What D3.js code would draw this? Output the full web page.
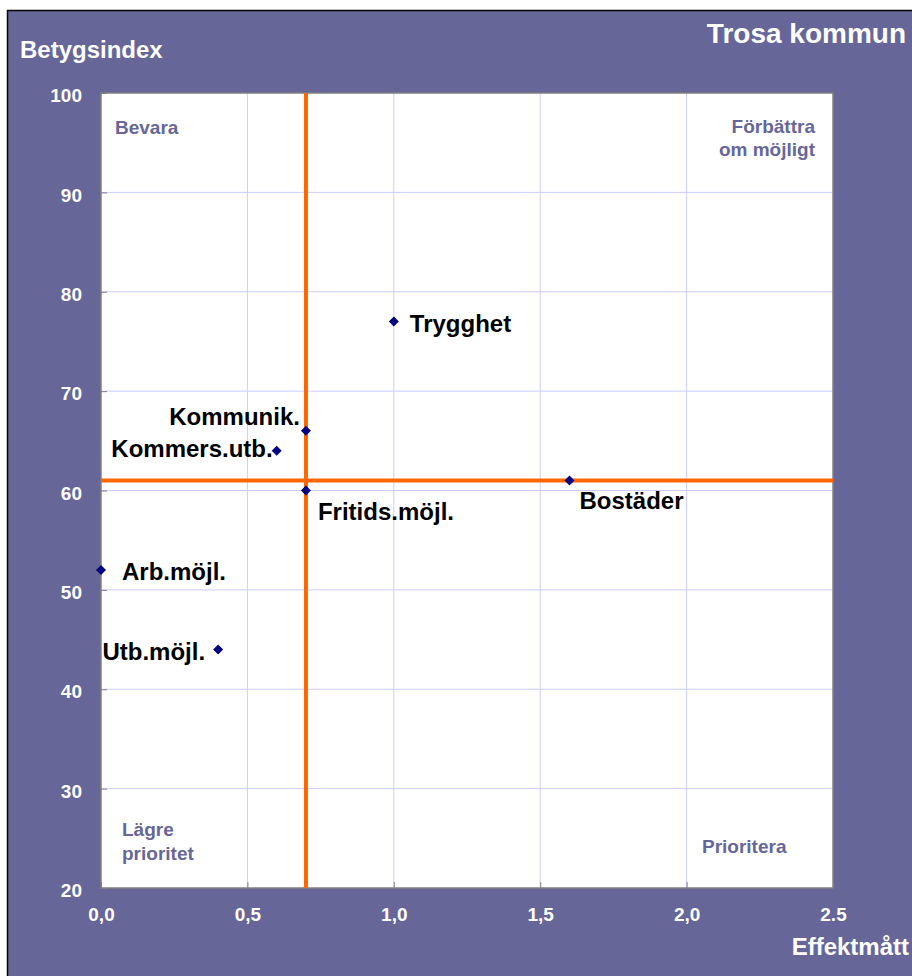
<!DOCTYPE html>
<html><head><meta charset="utf-8">
<script src="https://cdn.jsdelivr.net/npm/d3@7"></script>
<style>html,body{margin:0;padding:0;background:#fff;}svg{display:block;}text{font-family:"Liberation Sans",Arial,sans-serif;font-weight:bold;}</style>
</head><body>
<script>
// ---- data ----
const names = ["Trygghet","Kommunik.","Kommers.utb.","Fritids.möjl.","Bostäder","Arb.möjl.","Utb.möjl."];
const effekt = [1.0, 0.7, 0.6, 0.7, 1.6, 0.0, 0.4];
const betyg  = [77, 66, 64, 60, 61, 52, 44];
const xTicks = [0, 0.5, 1.0, 1.5, 2.0, 2.5];
const xTickLabels = ["0,0","0,5","1,0","1,5","2,0","2.5"];
const yTicks = [20,30,40,50,60,70,80,90,100];
const refX = 0.7, refY = 61;
const title = "Trosa kommun", yTitle = "Betygsindex", xTitle = "Effektmått";

// ---- layout (styling) ----
const labelLayout = {
  "Trygghet":      {anchor:"start", dx:16,  dy:10},
  "Kommunik.":     {anchor:"end",   dx:-6,  dy:-6},
  "Kommers.utb.":  {anchor:"end",   dx:-4,  dy:6},
  "Fritids.möjl.": {anchor:"start", dx:12,  dy:29},
  "Bostäder":      {anchor:"start", dx:10,  dy:28},
  "Arb.möjl.":     {anchor:"start", dx:21,  dy:10},
  "Utb.möjl.":     {anchor:"end",   dx:-13, dy:10}
};
const W=912,H=976, L=101,R=833,T=93,B=888;
const purple="#666699", labelPurple="#666699";

const svg=d3.select("body").append("svg").attr("width",W).attr("height",H);
svg.append("rect").attr("x",7.5).attr("y",10.5).attr("width",W).attr("height",H).attr("fill",purple).attr("stroke","#000").attr("stroke-width",1.5);

const x=d3.scaleLinear().domain([0,2.5]).range([L,R]);
const y=d3.scaleLinear().domain([20,100]).range([B,T]);

svg.append("rect").attr("x",L).attr("y",T).attr("width",R-L).attr("height",B-T).attr("fill","#fff");

// grid
const g=svg.append("g");
g.selectAll("line.vx").data(xTicks.slice(1,-1)).join("line")
 .attr("x1",d=>x(d)).attr("x2",d=>x(d)).attr("y1",T).attr("y2",B).attr("stroke","#ccccff").attr("stroke-width",1);
g.selectAll("line.hy").data(yTicks.slice(1,-1)).join("line")
 .attr("y1",d=>y(d)).attr("y2",d=>y(d)).attr("x1",L).attr("x2",R).attr("stroke","#ccccff").attr("stroke-width",1);

// axes (inside ticks)
const yAxis=svg.append("g").attr("transform",`translate(${L},0)`).call(d3.axisLeft(y).tickValues(yTicks).tickSize(-6).tickFormat(d3.format("d")));
const xAxis=svg.append("g").attr("transform",`translate(0,${B})`).call(d3.axisBottom(x).tickValues(xTicks).tickSize(-6).tickFormat((d,i)=>xTickLabels[i]));
[yAxis,xAxis].forEach(a=>{a.select(".domain").remove();a.selectAll(".tick line").attr("stroke","#808080");
  a.selectAll("text").attr("fill","#fff").style("font-size","19px").style("font-weight","bold").style("font-family","'Liberation Sans',Arial,sans-serif");});
yAxis.selectAll("text").attr("x",-19).attr("dy","0.35em").attr("y",2);
xAxis.selectAll("text").attr("y",33).attr("dy","0");

// plot border
svg.append("rect").attr("x",L).attr("y",T).attr("width",R-L).attr("height",B-T).attr("fill","none").attr("stroke","#808080").attr("stroke-width",1.5);

// reference lines
svg.append("line").attr("x1",x(refX)).attr("x2",x(refX)).attr("y1",T).attr("y2",B).attr("stroke","#ff6600").attr("stroke-width",4);
svg.append("line").attr("x1",L).attr("x2",R).attr("y1",y(refY)).attr("y2",y(refY)).attr("stroke","#ff6600").attr("stroke-width",4);

// quadrant labels
const q=svg.append("g").attr("fill",labelPurple).style("font-size","19px");
q.append("text").attr("x",115).attr("y",134).text("Bevara");
q.append("text").attr("x",815).attr("y",133).attr("text-anchor","end").text("Förbättra");
q.append("text").attr("x",815).attr("y",156).attr("text-anchor","end").text("om möjligt");
q.append("text").attr("x",122).attr("y",836).text("Lägre");
q.append("text").attr("x",122).attr("y",860).text("prioritet");
q.append("text").attr("x",702).attr("y",853).text("Prioritera");

// points
const pts=names.map((n,i)=>({n,x:effekt[i],y:betyg[i]}));
svg.append("g").selectAll("path").data(pts).join("path")
 .attr("d",d3.symbol(d3.symbolSquare,50))
 .attr("transform",d=>`translate(${x(d.x)},${y(d.y)}) rotate(45)`)
 .attr("fill","#000080");
svg.append("g").selectAll("text").data(pts).join("text")
 .attr("x",d=>x(d.x)+labelLayout[d.n].dx).attr("y",d=>y(d.y)+labelLayout[d.n].dy)
 .attr("text-anchor",d=>labelLayout[d.n].anchor).attr("fill","#000").style("font-size","24px").text(d=>d.n);

// titles
svg.append("text").attr("x",20).attr("y",58).attr("fill","#fff").style("font-size","24px").text(yTitle);
svg.append("text").attr("x",906).attr("y",43).attr("text-anchor","end").attr("fill","#fff").style("font-size","28px").text(title);
svg.append("text").attr("x",909).attr("y",955).attr("text-anchor","end").attr("fill","#fff").style("font-size","24px").text(xTitle);
</script>
</body></html>
